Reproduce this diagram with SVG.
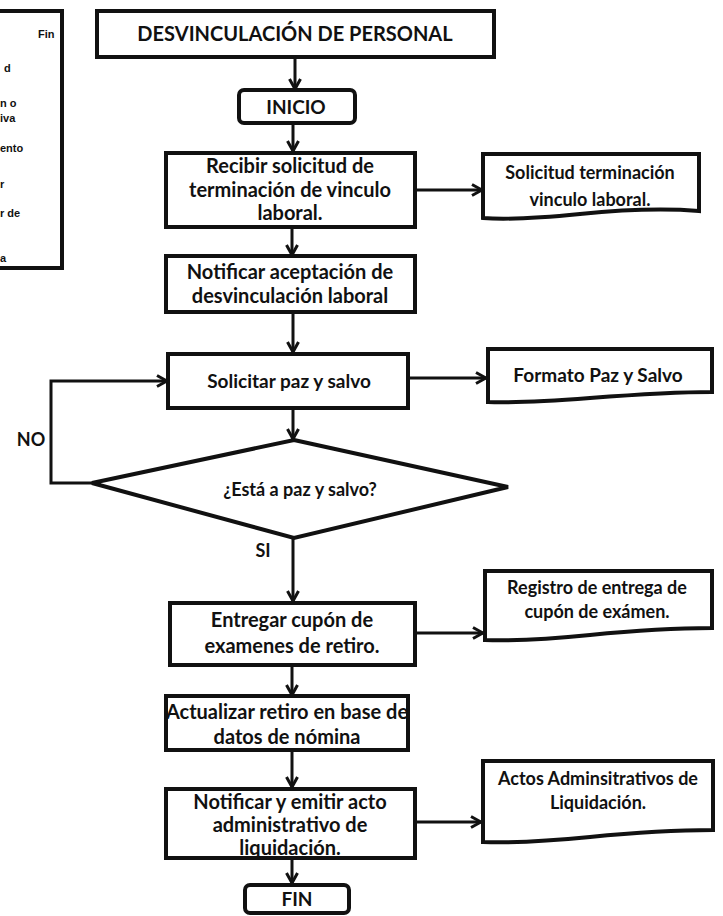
<svg xmlns="http://www.w3.org/2000/svg" width="723" height="916" viewBox="0 0 723 916">
<style>
.bx{fill:#fff;stroke:#111;stroke-width:4}
.ln{fill:none;stroke:#111;stroke-width:3}
.t{font-family:Lato,"Liberation Sans",sans-serif;font-weight:bold;font-size:20px;fill:#111;text-anchor:middle}
.d{font-size:18px}
.lg{font-family:"Liberation Sans",sans-serif;font-weight:bold;font-size:11px;fill:#111}
</style>
<defs>
<marker id="ah" viewBox="0 0 14 14" refX="12" refY="7" markerWidth="14" markerHeight="14" markerUnits="userSpaceOnUse" orient="auto">
<path d="M2,1.5 L12,7 L2,12.5" fill="none" stroke="#111" stroke-width="3"/>
</marker>
</defs>
<rect width="723" height="916" fill="#fff"/>
<g id="legend">
<path d="M-5,11 H62 V268 H-5" class="bx" fill="#fff"/>
<text class="lg" x="38" y="38">Fin</text>
<text class="lg" x="4" y="72">d</text>
<text class="lg" x="0" y="107">n o</text>
<text class="lg" x="0" y="122">iva</text>
<text class="lg" x="0" y="152">ento</text>
<text class="lg" x="0" y="188">r</text>
<text class="lg" x="0" y="217">r de</text>
<text class="lg" x="0" y="262">a</text>
</g>
<g id="connectors">
<line class="ln" x1="295" y1="57" x2="295" y2="89" marker-end="url(#ah)"/>
<line class="ln" x1="293" y1="124" x2="293" y2="151" marker-end="url(#ah)"/>
<line class="ln" x1="292" y1="227" x2="292" y2="255" marker-end="url(#ah)"/>
<line class="ln" x1="415" y1="190" x2="482" y2="190" marker-end="url(#ah)"/>
<line class="ln" x1="293" y1="312" x2="293" y2="352" marker-end="url(#ah)"/>
<line class="ln" x1="408" y1="378" x2="486" y2="378" marker-end="url(#ah)"/>
<line class="ln" x1="293" y1="408" x2="293" y2="439" marker-end="url(#ah)"/>
<polyline class="ln" points="92,483 51,483 51,381 167,381" marker-end="url(#ah)"/>
<line class="ln" x1="293" y1="538" x2="293" y2="601" marker-end="url(#ah)"/>
<line class="ln" x1="415" y1="633" x2="483" y2="633" marker-end="url(#ah)"/>
<line class="ln" x1="292" y1="665" x2="292" y2="695" marker-end="url(#ah)"/>
<line class="ln" x1="292" y1="750" x2="292" y2="787" marker-end="url(#ah)"/>
<line class="ln" x1="415" y1="822" x2="481" y2="822" marker-end="url(#ah)"/>
<line class="ln" x1="292" y1="858" x2="292" y2="883" marker-end="url(#ah)"/>
<text class="t" x="31" y="446" style="font-size:18px">NO</text>
<text class="t" x="263" y="557" style="font-size:18px">SI</text>
</g>
<g id="title">
<rect class="bx" x="97" y="11" width="397" height="46"/>
<text class="t" x="295" y="41">DESVINCULACIÓN DE PERSONAL</text>
</g>
<g id="inicio">
<rect class="bx" x="239" y="90" width="116" height="33" rx="5"/>
<text class="t" x="296" y="114" style="font-size:19px">INICIO</text>
</g>
<g id="recibir">
<rect class="bx" x="166" y="153" width="249" height="74"/>
<text class="t" x="290" y="173">Recibir solicitud de</text>
<text class="t" x="290" y="197">terminación de vinculo</text>
<text class="t" x="290" y="220">laboral.</text>
</g>
<g id="doc1">
<path class="bx" d="M483,154 H699 V211 C660,208 620,210 580,214 C540,218 510,220 483,218 Z"/>
<text class="t d" x="590" y="179">Solicitud terminación</text>
<text class="t d" x="590" y="206">vinculo laboral.</text>
</g>
<g id="notificar">
<rect class="bx" x="166" y="256" width="249" height="56"/>
<text class="t" x="290" y="279">Notificar aceptación de</text>
<text class="t" x="290" y="303">desvinculación laboral</text>
</g>
<g id="solicitar">
<rect class="bx" x="168" y="354" width="240" height="54"/>
<text class="t" x="289" y="388" style="font-size:19px">Solicitar paz y salvo</text>
</g>
<g id="doc2">
<path class="bx" d="M488,349 H712 V392 C670,392 630,395 590,398 C550,401 515,403 488,402 Z"/>
<text class="t d" x="598" y="382" style="font-size:19px">Formato Paz y Salvo</text>
</g>
<g id="decision">
<polygon class="bx" points="294,440 508,487 294,538 92,483"/>
<text class="t d" x="300" y="496">¿Está a paz y salvo?</text>
</g>
<g id="entregar">
<rect class="bx" x="170" y="603" width="245" height="62"/>
<text class="t" x="292" y="627">Entregar cupón de</text>
<text class="t" x="292" y="653">examenes de retiro.</text>
</g>
<g id="doc3">
<path class="bx" d="M485,571 H712 V628 C670,628 630,631 590,635 C550,639 515,641 485,640 Z"/>
<text class="t d" x="597" y="594">Registro de entrega de</text>
<text class="t d" x="597" y="618">cupón de exámen.</text>
</g>
<g id="actualizar">
<rect class="bx" x="166" y="696" width="242" height="54"/>
<text class="t" x="287" y="719">Actualizar retiro en base de</text>
<text class="t" x="287" y="744">datos de nómina</text>
</g>
<g id="emitir">
<rect class="bx" x="166" y="789" width="249" height="69"/>
<text class="t" x="290" y="809">Notificar y emitir acto</text>
<text class="t" x="290" y="832">administrativo de</text>
<text class="t" x="290" y="855">liquidación.</text>
</g>
<g id="doc4">
<path class="bx" d="M483,761 H713 V830 C670,830 630,833 590,837 C550,841 515,843 483,842 Z"/>
<text class="t d" x="598" y="785">Actos Adminsitrativos de</text>
<text class="t d" x="598" y="809">Liquidación.</text>
</g>
<g id="fin">
<rect class="bx" x="245" y="885" width="104" height="28" rx="5"/>
<text class="t" x="297" y="906" style="font-size:19px">FIN</text>
</g>
</svg>
